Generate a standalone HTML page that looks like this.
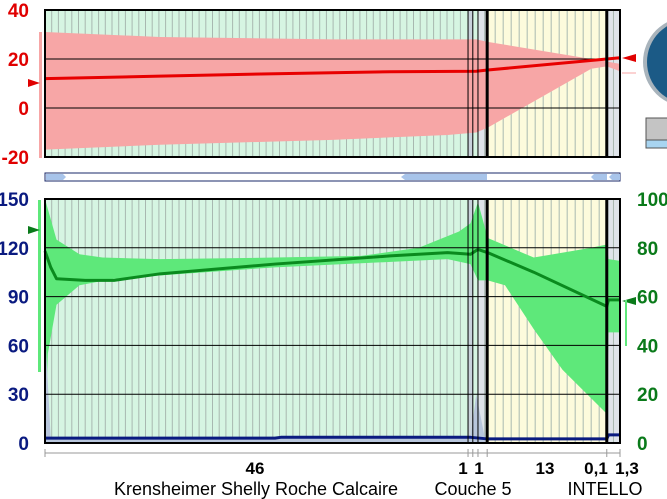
<!DOCTYPE html>
<html><head><meta charset="utf-8"><style>
body{margin:0;background:#fff;width:667px;height:499px;overflow:hidden;font-family:"Liberation Sans",sans-serif}
svg{display:block}
</style></head><body>
<svg id="c" width="667" height="499"></svg>
<script>
const layerBounds=[0,0.7357,0.744,0.753,0.769,0.977,1];
const layerFills=['#d6f5e2','#c9d2dc','#d6f5e2','#dfe4ea','#fdfbdc','#dfe4ea'];
const layerValues=['46','1','1','13','0,1','1,3'];
const layerNames=[['Krensheimer Shelly Roche Calcaire',0.368],['Couche 5',0.744],['INTELLO',0.977]];
const tempTicks=[40,20,0,-20];
const humTicks=[150,120,90,60,30,0];
const rhTicks=[100,80,60,40,20,0];
const tempPos=[0,0.2,0.4,0.6,0.75,0.77,0.977,1];
const tempLine=[12,13,14,14.8,15,15.5,20,20.5];
const tempUpPos=[0,0.2,0.5,0.75,0.77,0.95,0.977,1];
const tempUp=[31,29,28,28,27,20,19,18];
const tempLoPos=[0,0.2,0.5,0.7,0.75,0.77,0.95,0.977,1];
const tempLo=[-17,-15,-13,-11,-10,-8,16,17,15];
const humPos=[0,0.01,0.02,0.07,0.12,0.2,0.4,0.6,0.7,0.74,0.753,0.77,0.85,0.977,0.98,1];
const humLine=[118,108,101,100,100,104,110,115,117,116,119,117,105,84,88,88];
const humUpPos=[0,0.02,0.06,0.1,0.2,0.4,0.55,0.65,0.72,0.74,0.753,0.77,0.85,0.95,0.977,0.98,1];
const humUp=[150,125,116,114,113,114,115,120,130,135,148,126,114,120,122,113,112];
const humLoPos=[0,0.005,0.02,0.06,0.12,0.4,0.7,0.74,0.753,0.77,0.8,0.85,0.9,0.977,0.98,1];
const humLo=[0,55,85,97,101,108,113,110,100,100,97,70,45,18,68,68];
const waterPos=[0,0.4,0.41,0.74,0.77,0.977,0.98,1];
const waterLine=[3,3,3.5,3.5,2.5,2.5,5,5];

const NS='http://www.w3.org/2000/svg',svg=document.getElementById('c');
const X0=45,X1=620;
const xs=t=>X0+(X1-X0)*t;
const yT=v=>108-(v)*(49/20);
const yH=v=>443-v*(244/150);
function mk(tag,a,p){const e=document.createElementNS(NS,tag);for(const k in a)e.setAttribute(k,a[k]);(p||svg).appendChild(e);return e;}
function txt(s,x,y,a){const e=mk('text',Object.assign({x:x,y:y},a));e.textContent=s;return e;}
function panel(top,bot,name){
  const g=mk('g',{});
  
  
  for(let i=0;i<layerFills.length;i++){
    const a=xs(layerBounds[i]),b=xs(layerBounds[i+1]);
    mk('rect',{x:a,y:top,width:b-a,height:bot-top,fill:layerFills[i]},g);
    const step=i==4?8:6.7;
    for(let x=a+step;x<b-1;x+=step)mk('line',{x1:x,x2:x,y1:top,y2:bot,stroke:'#a8b8b0','stroke-width':1},g);
  }
}
function area(pu,up,pl,lo,ys,fill,name){
  let d='M'+pu.map((p,i)=>xs(p)+','+ys(up[i])).join('L');
  for(let i=pl.length-1;i>=0;i--)d+='L'+xs(pl[i])+','+ys(lo[i]);
  const e=mk('path',{d:d+'Z',fill:fill});
  
  
}
function line(pos,vals,ys,col,w,name){
  const e=mk('polyline',{points:pos.map((p,i)=>xs(p)+','+ys(vals[i])).join(' '),fill:'none',stroke:col,'stroke-width':w,'stroke-linejoin':'round'});
  
  
}
function bounds(top,bot){
  layerBounds.slice(1,-1).forEach((b,i)=>{const w=(i==3||i==4)?3:1;mk('line',{x1:xs(b),x2:xs(b),y1:top,y2:bot,stroke:'#000','stroke-width':w});});
  mk('rect',{x:X0,y:top,width:X1-X0,height:bot-top,fill:'none',stroke:'#000','stroke-width':2});
}
// top panel
panel(10,157,'temperature');
area(tempUpPos,tempUp,tempLoPos,tempLo,yT,'#f7a6a6','temperature-range');
tempTicks.forEach(v=>{mk('line',{x1:X0,x2:X1,y1:yT(v),y2:yT(v),stroke:'#000','stroke-width':1});
  const t=txt(v,29,yT(v)+7,{'text-anchor':'end','font-size':19,'font-weight':'bold',fill:'#e00000'});
  });
line(tempPos,tempLine,yT,'#e80000',3,'temperature-line');
bounds(10,157);
mk('rect',{x:39,y:32,width:3,height:126,fill:'#f7a6a6'});
mk('polygon',{points:'40,83 28,79 28,87',fill:'#e00000'});
mk('polygon',{points:'622,58 636,54 636,62',fill:'#e00000'});
mk('line',{x1:622,x2:636,y1:73,y2:73,stroke:'#f7a6a6','stroke-width':1});
// scroll bar
const sb=mk('g',{});
mk('rect',{x:X0,y:173,width:X1-X0,height:8,fill:'#fff',stroke:'#1a2a6a','stroke-width':1},sb);
mk('polygon',{points:'46,174 63,174 66,177 63,180 46,180',fill:'#a8c4ea'},sb);
mk('polygon',{points:'405,174 487,174 487,180 405,180 401,177',fill:'#a8c4ea'},sb);
mk('polygon',{points:'594,174 607,174 607,180 594,180 591,177',fill:'#a8c4ea'},sb);
mk('polygon',{points:'612,174 620,174 620,180 612,180 609,177',fill:'#a8c4ea'},sb);
// bottom panel
panel(199,443,'humidity');
area(humUpPos,humUp,humLoPos,humLo,yH,'#5ee87a','humidity-range');
mk('path',{d:`M${xs(0)},${yH(0)}L${xs(0)},${yH(70)}L${xs(0.01)},${yH(3)}L${xs(0.74)},${yH(3)}L${xs(0.75)},${yH(30)}L${xs(0.765)},${yH(3)}L${xs(0.765)},${yH(0)}Z`,fill:'#b8c6dc'});
humTicks.forEach(v=>{mk('line',{x1:X0,x2:X1,y1:yH(v),y2:yH(v),stroke:'#000','stroke-width':1});
  const t=txt(v,29,yH(v)+7,{'text-anchor':'end','font-size':19,'font-weight':'bold',fill:'#0a1a80'});
  });
rhTicks.forEach(v=>{const t=txt(v,637,yH(v*1.5)+7,{'font-size':19,'font-weight':'bold',fill:'#0a7a1a'});
  });
line(humPos,humLine,yH,'#0a8a1e',3,'humidity-line');
line(waterPos,waterLine,yH,'#0a1a80',3,'water-content-line');
bounds(199,443);
mk('rect',{x:38,y:200,width:3,height:172,fill:'#5ee87a'});
mk('polygon',{points:'40,230 28,226 28,234',fill:'#0a7a1a'});
mk('polygon',{points:'622,301 636,297 636,305',fill:'#0a7a1a'});
mk('rect',{x:625,y:300,width:2,height:46,fill:'#5ee87a'});
// x axis
mk('line',{x1:X0,x2:X1,y1:453,y2:453,stroke:'#999'});
layerBounds.forEach(b=>mk('line',{x1:xs(b),x2:xs(b),y1:449,y2:457,stroke:'#999'}));
const valX=[255,463,479,545,596,627];
layerValues.forEach((v,i)=>{const t=txt(v,valX[i],474,{'text-anchor':'middle','font-size':17,'font-weight':'bold',fill:'#000'});
  });
const nameX=[256,473,605];
layerNames.forEach((n,i)=>{const t=txt(n[0],nameX[i],495,{'text-anchor':'middle','font-size':18,fill:'#000'});
  });
// right widgets
const g2=mk('g',{});
mk('circle',{cx:688,cy:62,r:45,fill:'#a9b4bc'},g2);
mk('circle',{cx:689,cy:62,r:42,fill:'#1b5a86'},g2);
mk('rect',{x:646,y:118,width:22,height:22,fill:'#c4c4c4',stroke:'#555'});
mk('rect',{x:646,y:140,width:22,height:8,fill:'#a8d4f0',stroke:'#555'});
</script>
</body></html>
